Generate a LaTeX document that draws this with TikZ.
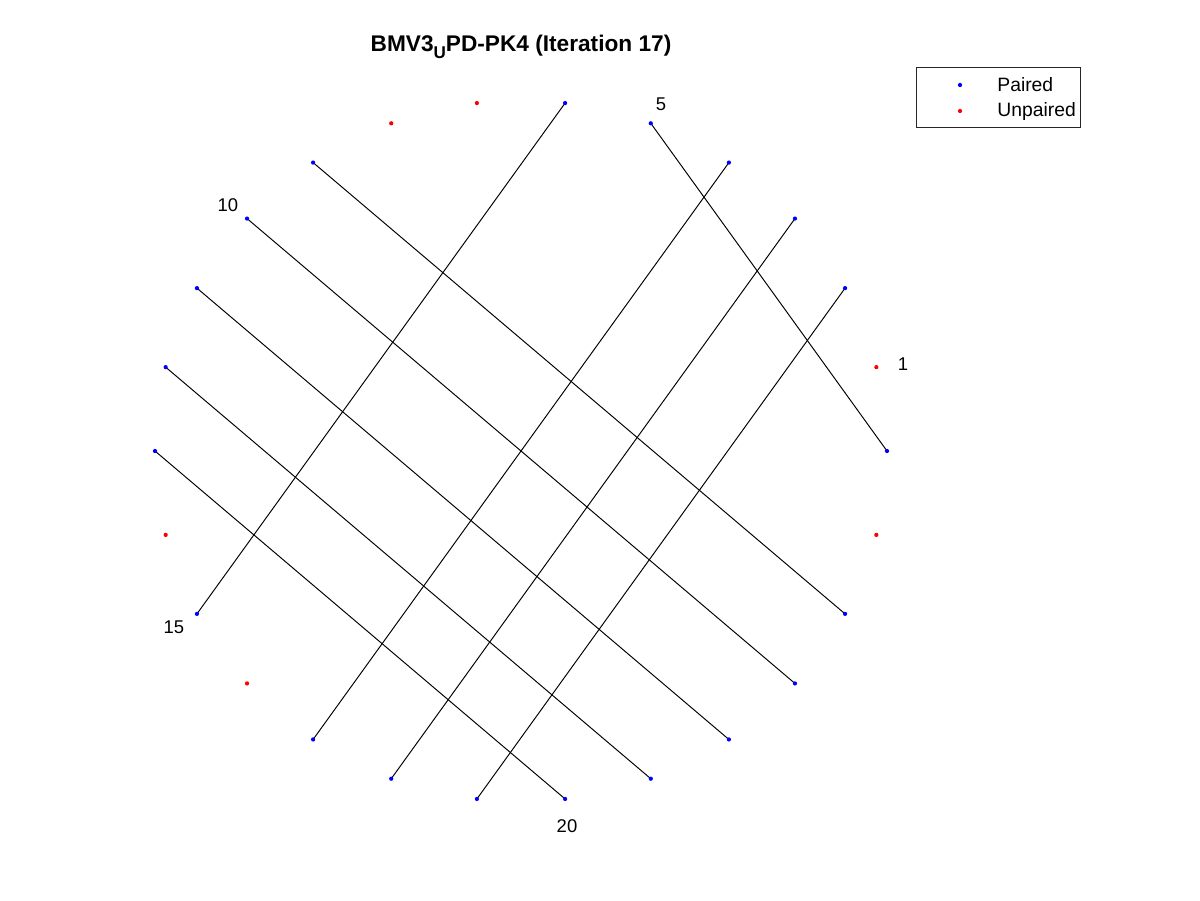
\documentclass[tikz,border=0pt]{standalone}
\usepackage{fontspec}
\setmainfont{Liberation Sans}
\usepackage{xcolor}
\usepackage{tikz}
\usetikzlibrary{positioning}
\definecolor{PairBlue}{RGB}{0, 0, 255}
\definecolor{UnpairRed}{RGB}{255, 0, 0}
\definecolor{BoxGray}{RGB}{38, 38, 38}
\tikzset{
    dot/.style={circle, fill=#1, inner sep=0pt, minimum size=0.085cm},
    bond/.style={black, line width=0.55pt},
    numlabel/.style={font=\fontsize{10.5}{12}\selectfont},
}

\begin{document}
\begin{tikzpicture}[x=0.02cm, y=-0.02cm]
            \useasboundingbox (0,0) rectangle (1200,900);
            % bases round the circle
            \foreach \i in {1,...,26} {
                \coordinate (p\i) at ({521+366*cos(\i*360/26)}, {451-350.5*sin(\i*360/26)});
            }
            % pairs
            \foreach \a/\b in {6/15, 5/26, 4/17, 3/18, 2/19, 9/24, 10/23, 11/22, 12/21, 13/20} {
                \draw[bond] (p\a) -- (p\b);
            }
            \foreach \i in {2,3,4,5,6,9,10,11,12,13,15,17,18,19,20,21,22,23,24,26} {
                \node[dot=PairBlue] (b\i) at (p\i) {};
            }
            \foreach \i in {1,7,8,14,16,25} {
                \node[dot=UnpairRed] (r\i) at (p\i) {};
            }
            % position labels
            \node[numlabel] (lbl1) at (903,364) {1};
            \node[numlabel] (lbl5) at (661,104) {5};
            \node[numlabel] (lbl10) at (228,205) {10};
            \node[numlabel] (lbl15) at (174,627) {15};
            \node[numlabel] (lbl20) at (567,826) {20};
            % title
            \node[font=\fontsize{12.9}{15}\selectfont\bfseries] (title) at (521,47)
                {BMV3\raisebox{-0.55ex}{\fontsize{9.7}{11}\selectfont U}PD-PK4 (Iteration 17)};
            % legend
            \node[draw=BoxGray, line width=0.5pt, minimum width=3.28cm, minimum height=1.2cm, inner sep=0pt] (legend) at (998,97) {};
            \node[dot=PairBlue] (legpaired) at (960,85) {};
            \node[dot=UnpairRed] (legunpaired) at (960,111) {};
            \node[font=\fontsize{11}{13}\selectfont, anchor=west, inner sep=0pt] (txtpaired) at (997,85) {Paired};
            \node[font=\fontsize{11}{13}\selectfont, anchor=west, inner sep=0pt] (txtunpaired) at (997,111) {Unpaired};
        \end{tikzpicture}
\end{document}
